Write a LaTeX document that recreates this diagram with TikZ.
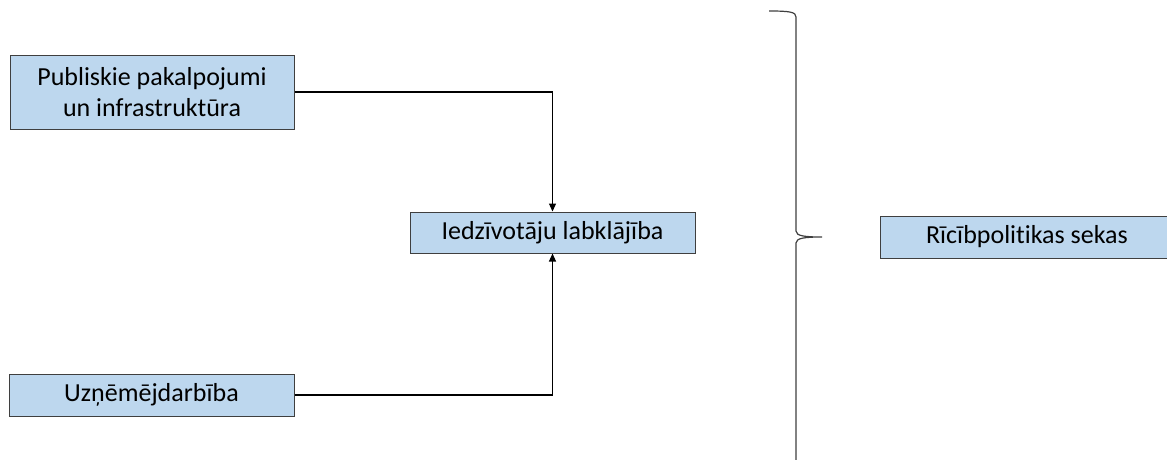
\documentclass[tikz,border=0pt]{standalone}
\usepackage{fontspec}
\setmainfont{Carlito}[Ligatures=NoCommon]
\usetikzlibrary{arrows.meta}

\definecolor{boxfill}{HTML}{BDD7EE}
\definecolor{boxline}{HTML}{3F3F3F}

\tikzstyle{bx} = [rectangle, draw=boxline, fill=boxfill, line width=1pt, align=center, inner sep=0pt]
\tikzstyle{ln} = [line width=1.2pt, -{Triangle[length=8pt,width=7pt]}]
\tikzstyle{every node}=[font=\fontsize{26}{31}\selectfont]

\begin{document}
\begin{tikzpicture}[x=1pt, y=-1pt]
  \useasboundingbox (0,0) rectangle (1167,459);
  \begin{scope}
  \clip (0,0) rectangle (1167,459);
  \node[bx, minimum width=284pt, minimum height=74pt] (pub) at (152,92)
    {Publiskie pakalpojumi\\un infrastruktūra};
  \node[bx, minimum width=285pt, minimum height=41pt] (iedz) at (552.5,232.5)
    {Iedzīvotāju labklājība};
  \node[bx, minimum width=285pt, minimum height=42pt] (uzn) at (151.5,395)
    {Uzņēmējdarbība};
  \node[bx, minimum width=294pt, minimum height=42pt] (sekas) at (1027,237)
    {Rīcībpolitikas sekas};
  \coordinate (br1) at (769,11);
  \coordinate (br2) at (822,237);
  \coordinate (br3) at (796,470);
  \end{scope}

  % arrows into the middle box
  \draw[ln] (pub.east) -| (iedz.north);
  \draw[ln] (uzn.east) -| (iedz.south);

  % brace
  \draw[line width=1.2pt, boxline] (br1) .. controls (790,11) and (796,12) .. (796,17)
    -- (796,231) .. controls (796,236) and (805,237) .. (br2)
    .. controls (805,237) and (796,238) .. (796,243) -- (br3);
\end{tikzpicture}
\end{document}
